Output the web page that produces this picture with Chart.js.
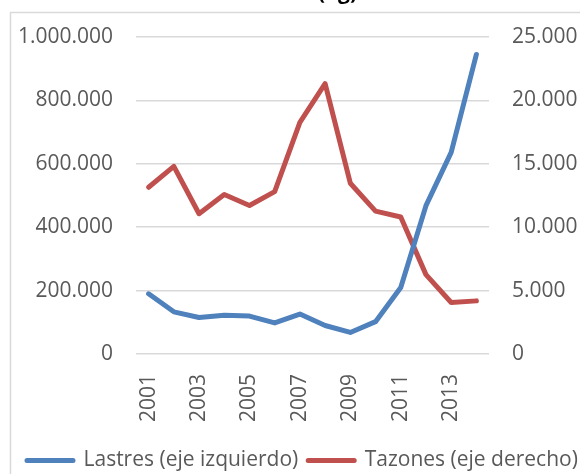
<!DOCTYPE html>
<html>
<head>
<meta charset="utf-8">
<script src="https://cdn.jsdelivr.net/npm/chart.js@4/dist/chart.umd.min.js"></script>
<style>
  html, body { margin: 0; padding: 0; background: #fff; overflow: hidden; }
  #wrap { position: absolute; left: 0; top: 0; width: 620px; height: 481px; }
</style>
</head>
<body>
<div id="wrap"><canvas id="chart" width="620" height="481"></canvas></div>
<script>
// datos
const years = ['2001', '2002', '2003', '2004', '2005', '2006', '2007', '2008', '2009', '2010', '2011', '2012', '2013', '2014'];
const lastres = [190000, 133000, 115000, 122000, 119500, 98000, 126000, 90000, 68000, 102000, 210000, 468000, 636000, 945000];
const tazones = [13150, 14800, 11060, 12580, 11710, 12810, 18260, 21330, 13470, 11270, 10800, 6260, 4060, 4190];
const leftTicks = [0, 200000, 400000, 600000, 800000, 1000000];
const rightTicks = [0, 5000, 10000, 15000, 20000, 25000];

const grey = '#595959';
const fontFam = '"Open Sans", sans-serif';

// separador de miles con punto
function fmt(v) {
    return String(v).replace(/\B(?=(\d{3})+(?!\d))/g, '.');
}

// borde del grafico + titulo cortado arriba
const frame = {
    id: 'frame',
    beforeDraw(chart) {
        const c = chart.ctx;
        c.save();
        c.strokeStyle = '#d9d9d9';
        c.lineWidth = 1.5;
        c.beginPath();
        c.moveTo(10.5, chart.height);
        c.lineTo(10.5, 12.5);
        c.lineTo(chart.width, 12.5);
        c.stroke();
        c.restore();
    },
    afterDraw(chart) {
        const c = chart.ctx;
        c.save();
        c.fillStyle = '#000';
        c.font = 'bold 21px ' + fontFam;
        c.textAlign = 'right';
        c.textBaseline = 'alphabetic';
        c.fillText('(kg)', 357, -1);
        c.restore();
    }
};

new Chart(document.getElementById('chart'), {
    type: 'line',
    data: {
        labels: years,
        datasets: [{
            label: 'Lastres (eje izquierdo)',
            data: lastres,
            yAxisID: 'y',
            borderColor: '#4f81bd',
            backgroundColor: '#4f81bd',
            borderWidth: 5,
            borderCapStyle: 'round',
            borderJoinStyle: 'round',
            pointRadius: 0,
            tension: 0
        }, {
            label: 'Tazones (eje derecho)',
            data: tazones,
            yAxisID: 'y1',
            borderColor: '#c0504d',
            backgroundColor: '#c0504d',
            borderWidth: 5,
            borderCapStyle: 'round',
            borderJoinStyle: 'round',
            pointRadius: 0,
            tension: 0
        }]
    },
    options: {
        responsive: false,
        animation: false,
        layout: { padding: { top: 37, left: 17, right: 0, bottom: 0 } },
        plugins: {
            legend: {
                position: 'bottom',
                align: 'start',
                labels: {
                    color: grey,
                    font: { family: fontFam, size: 21 },
                    boxWidth: 46,
                    boxHeight: 0,
                    padding: 10
                }
            },
            tooltip: { enabled: false }
        },
        scales: {
            x: {
                offset: true,
                grid: { display: false, drawTicks: false },
                border: { display: false },
                ticks: {
                    color: grey,
                    font: { family: fontFam, size: 21 },
                    autoSkip: false,
                    minRotation: 90,
                    maxRotation: 90,
                    padding: 20,
                    callback: function(v, i) { return i % 2 === 0 ? this.getLabelForValue(v) : ''; }
                },
                afterFit(s) { s.height = 86; }
            },
            y: {
                position: 'left',
                min: 0,
                max: 1000000,
                afterBuildTicks(s) { s.ticks = leftTicks.map(v => ({ value: v })); },
                grid: { color: '#d9d9d9', lineWidth: 1.5, drawTicks: false },
                border: { display: false },
                ticks: {
                    color: grey,
                    font: { family: fontFam, size: 21 },
                    padding: 23,
                    callback: v => fmt(v)
                },
                afterFit(s) { s.width = 119; }
            },
            y1: {
                position: 'right',
                min: 0,
                max: 25000,
                afterBuildTicks(s) { s.ticks = rightTicks.map(v => ({ value: v })); },
                grid: { display: false, drawTicks: false },
                border: { display: false },
                ticks: {
                    color: grey,
                    font: { family: fontFam, size: 21 },
                    padding: 23,
                    callback: v => fmt(v)
                },
                afterFit(s) { s.width = 131; }
            }
        }
    },
    plugins: [frame]
});
</script>
</body>
</html>
